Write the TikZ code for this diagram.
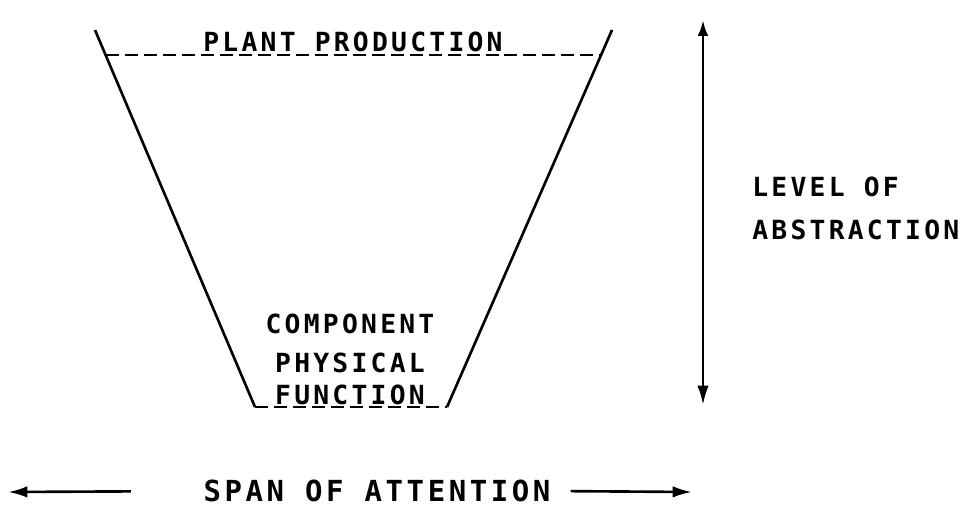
\documentclass[tikz,border=0pt]{standalone}
\usepackage{fontspec}
\newfontfamily\plotfont[LetterSpace=12.3]{DejaVu Sans Mono Bold}
\usetikzlibrary{arrows.meta,positioning}
\tikzset{funnel/.style={line width=1.5pt},
  levelline/.style={line width=1.5pt, dash pattern=on 7.4pt off 3.4pt},
  plottext/.style={font=\plotfont\fontsize{15}{17}\selectfont, inner sep=0pt},
  scalearrow/.style={-{Latex[length=11pt,width=6.5pt]}, line width=1.5pt}}

\begin{document}
\begin{tikzpicture}[x=0.02cm, y=-0.02cm]
\useasboundingbox (0,0) rectangle (979,518);
\coordinate (tl) at (95,30);
\coordinate (tr) at (612,30);
\coordinate (bl) at (255,407);
\coordinate (br) at (447,407);
\coordinate (ptl) at (106,55);
\coordinate (ptr) at (601,55);
\draw[funnel] (tl) -- (bl);
\draw[funnel] (tr) -- (br);
\draw[levelline] (ptl) -- (ptr);
\draw[levelline] (bl) -- (br);
\node[plottext, anchor=base] (plant) at (353,51) {PLANT PRODUCTION};
\node[plottext] (comp) at (350,324) {COMPONENT};
\node[plottext, below=0.36cm of comp] (phys) {PHYSICAL};
\node[plottext, anchor=base] (func) at (350,404) {FUNCTION};
\node[plottext, anchor=west] (level) at (752,187) {LEVEL OF};
\node[plottext, anchor=west] (abs) at (752,230) {ABSTRACTION};
\coordinate (atop) at (703,20);
\coordinate (abot) at (703,405);
\draw[scalearrow, {Latex[length=9pt,width=6pt]}-{Latex[length=11pt,width=6.5pt]}] (atop) -- (abot);
\node[plottext, font=\plotfont\fontsize{16.5}{18}\selectfont] (span) at (377,491) {SPAN OF ATTENTION};
\coordinate (sl) at (8,492);
\coordinate (sr) at (692,492);
\draw[scalearrow, shorten <=1.45cm] (span.west) -- (sl);
\draw[scalearrow, shorten <=0.4cm] (span.east) -- (sr);
\end{tikzpicture}
\end{document}
